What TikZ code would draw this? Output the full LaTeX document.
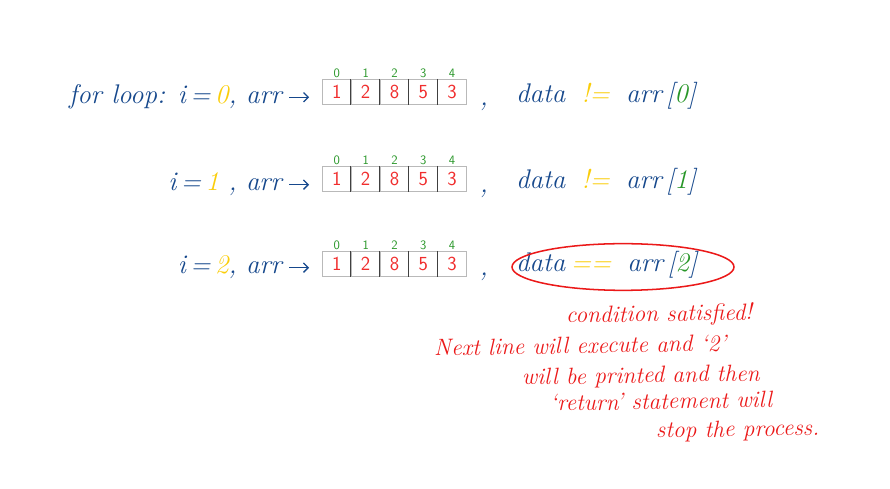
\documentclass[tikz,border=0pt]{standalone}
\usepackage{tikz}
\usetikzlibrary{calc}
\usetikzlibrary{arrows.meta}
\usepackage{color}
\definecolor{pen}{RGB}{22,72,140}
\definecolor{hl}{RGB}{250,205,10}
\definecolor{idxgreen}{RGB}{40,150,40}
\definecolor{note}{RGB}{235,25,25}
\definecolor{cellred}{RGB}{240,45,45}
\newcommand{\arrcells}[2] % name prefix, top y in px
{
	% cells with the values
	\foreach \v [count=\k from 0] in {1,2,8,5,3}
	{
		\node[cell] (#1c\k) at ({322+28.8*\k},#2) {\v};
		% index above the cell
		\node[idx] (#1i\k) at (#1c\k.north) {\k};
	}
	% darker dividers between cells
	\foreach \k in {1,...,4}
		\draw[divider] (#1c\k.north west) -- (#1c\k.south west);
}

\begin{document}
\begin{tikzpicture}[x=0.03cm, y=-0.03cm,
	hand/.style={inner sep=0, text=pen, font=\fontsize{23}{27}\selectfont\itshape},
	cell/.style={anchor=north west, draw=gray!55, line width=0.8pt, inner sep=0,
		minimum width=0.864cm, minimum height=0.75cm, text=cellred,
		font=\sffamily\fontsize{17}{17}\selectfont},
	idx/.style={anchor=south, inner sep=1pt, text=idxgreen,
		font=\sffamily\fontsize{11}{11}\selectfont},
	divider/.style={draw=black!75, line width=0.9pt},
	pointer/.style={-{Straight Barb[length=4pt,width=8pt]}, draw=pen, line width=1.1pt,
		shorten <=6pt, shorten >=11pt},
	remark/.style={anchor=base west, inner sep=0, rotate=1, text=note,
		font=\fontsize{20}{23}\selectfont\itshape}]
	% page 890 x 489 px
	\useasboundingbox (0,0) rectangle (890,489);

	% i = 0
	\node[hand, anchor=base east] (lead1) at (282,104) {for loop: i\,=\,\textcolor{hl}{0}, arr};
	\arrcells{r1}{79}
	\node[hand, anchor=base] (comma1) at (484,106) {,};
	\node[hand, anchor=base west] (test1) at (516,103)
		{data\hspace{0.6em}\textcolor{hl}{!=}\hspace{0.6em}arr\,[\textcolor{idxgreen}{0}]};
	\draw[pointer] (lead1.east) -- (lead1.east -| r1c0.west);

	% i = 1
	\node[hand, anchor=base east] (lead2) at (282,191) {i\,=\,\textcolor{hl}{1} , arr};
	\arrcells{r2}{166}
	\node[hand, anchor=base] (comma2) at (484,193) {,};
	\node[hand, anchor=base west] (test2) at (516,189)
		{data\hspace{0.6em}\textcolor{hl}{!=}\hspace{0.6em}arr\,[\textcolor{idxgreen}{1}]};
	\draw[pointer] (lead2.east) -- (lead2.east -| r2c0.west);

	% i = 2
	\node[hand, anchor=base east] (lead3) at (282,274) {i\,=\,\textcolor{hl}{2}, arr};
	\arrcells{r3}{251}
	\node[hand, anchor=base] (comma3) at (484,276) {,};
	\node[hand, anchor=base west] (test3) at (516,272)
		{data\hspace{0.2em}\textcolor{hl}{==}\hspace{0.6em}arr\,[\textcolor{idxgreen}{2}]};
	\draw[pointer] (lead3.east) -- (lead3.east -| r3c0.west);
	\draw[note, line width=1.3pt] (623,267) ellipse [x radius=3.33cm, y radius=0.7cm];

	% remark
	\node[remark] (line1) at (566,323) {condition satisfied!};
	\node[remark] (line2) at (434,356) {Next line will execute and `2'};
	\node[remark] (line3) at (522,385) {will be printed and then};
	\node[remark] (line4) at (550,411) {`return' statement will};
	\node[remark] (line5) at (656,438) {stop the process.};
\end{tikzpicture}
\end{document}
